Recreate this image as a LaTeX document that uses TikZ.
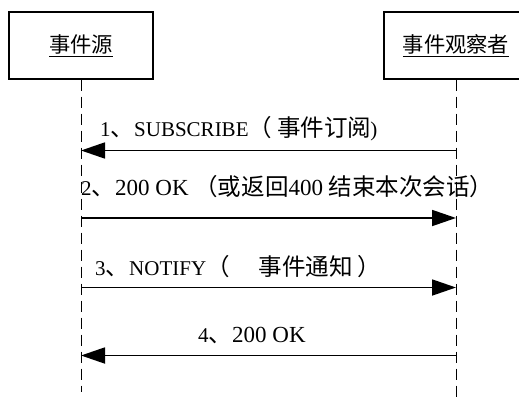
\documentclass[tikz,border=0pt]{standalone}
\usepackage{fontspec}
\setmainfont{Liberation Serif}
\newfontfamily\cjk[Scale=1.12]{Noto Sans CJK SC}
\usetikzlibrary{arrows.meta}
\newcommand\gros[1]{{\fontsize{23}{27}\selectfont #1}}

\tikzset{acteur/.style={draw,line width=1.2pt,minimum width=144pt,minimum height=67pt,inner sep=0pt,font=\fontsize{19}{23}\selectfont\cjk},
vie/.style={line width=1pt,dash pattern=on 11pt off 6pt},
message/.style={line width=1.8pt,-{Triangle[length=24pt,width=16pt]}},
texte/.style={anchor=base west,inner sep=0pt}}

\begin{document}
\begin{tikzpicture}[x=1pt,y=-1pt,font=\fontsize{21}{25}\selectfont]
\clip (0,0) rectangle (519,401);
\node [acteur] (source) at (81,45.5) {\underline{事件源}};
\node [acteur] (observateur) at (456,45.5) {\underline{事件观察者}};
\coordinate (finsource) at (81,392);
\coordinate (finobs) at (456,401);
\draw [vie] (source.south) -- (finsource);
\draw [vie] (observateur.south) -- (finobs);
% les messages
\coordinate (s1) at (81,150.5); \coordinate (o1) at (456,150.5);
\coordinate (s2) at (81,218); \coordinate (o2) at (456,218);
\coordinate (s3) at (81,287.5); \coordinate (o3) at (456,287.5);
\coordinate (s4) at (81,355.5); \coordinate (o4) at (456,355.5);
\draw [message] (o1) -- (s1);
\draw [message] (s2) -- (o2);
\draw [message] (s3) -- (o3);
\draw [message] (o4) -- (s4);
\node [texte] (m1) at (100,136) {1{\cjk 、}SUBSCRIBE{\cjk （ 事件订阅}\kern-1pt)};
\node [texte] (m2) at (81,195) {2{\cjk 、}\gros{200 OK }{\cjk （或返回}\gros{400 }{\cjk 结束本次会话）}};
\node [texte] (m3) at (95,275) {3{\cjk 、}NOTIFY{\cjk （　 事件通知 ）}};
\node [texte] (m4) at (198,342) {4{\cjk 、}\gros{200 OK}};
\end{tikzpicture}
\end{document}
